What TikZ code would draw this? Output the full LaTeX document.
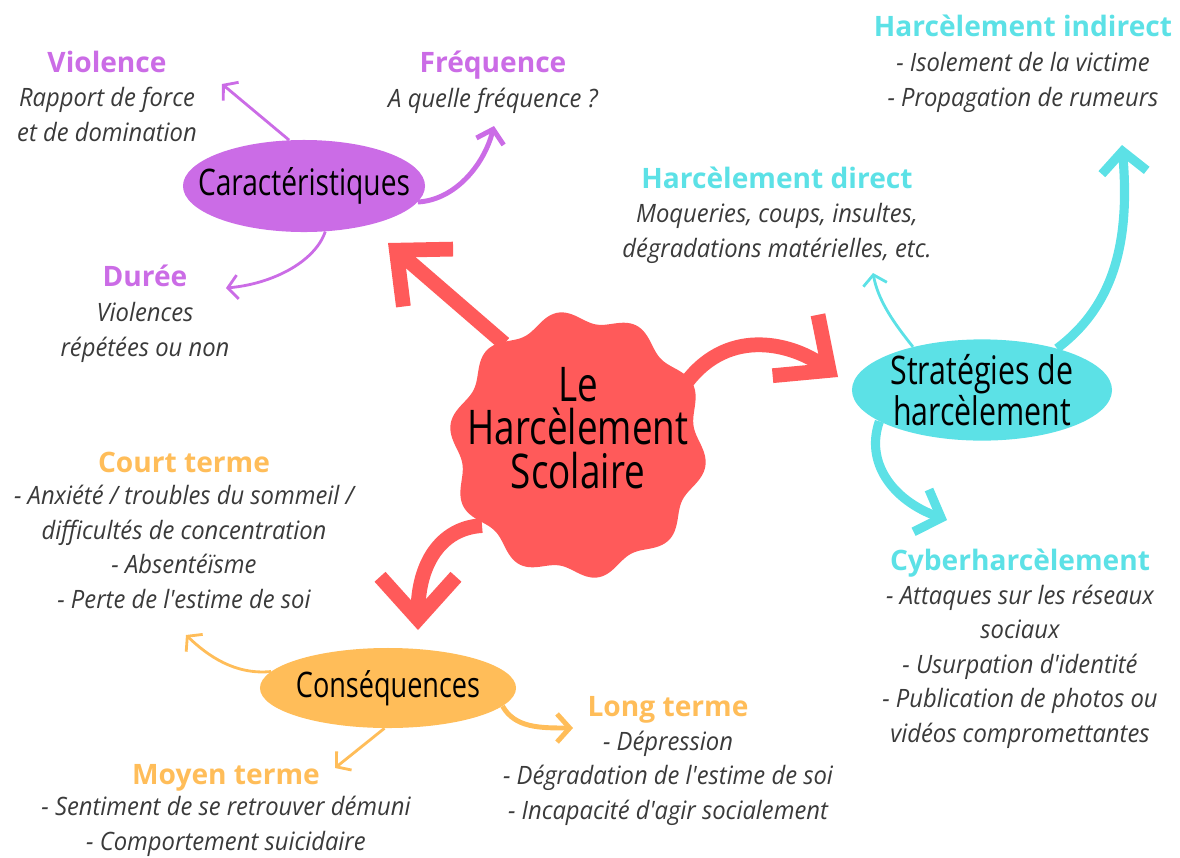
\documentclass[tikz,border=0pt]{standalone}
\usepackage{fontspec}
\setmainfont{Open Sans}
\newfontfamily\handfont[FakeStretch=0.77]{Open Sans}
\newfontfamily\notefont[FakeStretch=0.94]{Open Sans}
\usepackage{xcolor}
\usepackage{tikz}
\usetikzlibrary{arrows.meta,positioning,shapes.geometric}
\definecolor{blobred}{HTML}{FF5A5A}
\definecolor{lilac}{HTML}{CB6CE6}
\definecolor{aqua}{HTML}{5CE1E6}
\definecolor{amber}{HTML}{FFBD59}
\definecolor{notegray}{HTML}{3A3A3A}

\begin{document}
\begin{tikzpicture}[x=0.025cm, y=-0.025cm,
  topic/.style={ellipse, fill=#1, inner sep=0pt, align=center,
                font=\handfont\fontsize{26}{24}\selectfont},
  head/.style={font=\bfseries\fontsize{20}{24}\selectfont, text=#1,
               anchor=base, inner sep=0pt},
  note/.style={font=\notefont\itshape\fontsize{18}{24.5}\selectfont,
               text=notegray, align=center, anchor=base, inner sep=0pt},
  bigarrow/.style={line width=10.5pt, blobred,
                   -{Straight Barb[length=30pt, width=54pt]}},
  thinarrow/.style={line width=2pt, #1,
                    -{Straight Barb[length=7pt, width=17pt]}},
  midarrow/.style={line width=3.5pt, #1,
                   -{Straight Barb[length=9pt, width=20pt]}},
  wideshaft/.style={line width=6.5pt, #1,
                    -{Straight Barb[length=15pt, width=32pt]}},
]
\useasboundingbox (0,0) rectangle (1180,857);

% Central blob
\fill[blobred] plot[domain=0:360, samples=160, smooth cycle]
  ({578+(123+6*sin(10*\x))*cos(\x)}, {445+(128+6*sin(10*\x))*sin(\x)});
\node[circle, minimum size=6.25cm, inner sep=0pt] (harc) at (578,445) {};
\node[font=\handfont\fontsize{34}{31}\selectfont, align=center]
  (title) at (578,428) {Le\\Harcèlement\\Scolaire};

% Topics
\node[topic=lilac, minimum width=6.05cm, minimum height=2.3cm,
      inner xsep=-15pt]
  (cara) at (304,186) {Caractéristiques};
\node[topic=aqua, minimum width=6.5cm, minimum height=2.5cm,
      font=\handfont\fontsize{28}{24}\selectfont]
  (strat) at (982,390) {Stratégies de\\harcèlement};
\node[topic=amber, minimum width=6.4cm, minimum height=2.0cm,
      font=\handfont\fontsize{25}{24}\selectfont, inner xsep=-2pt]
  (cons) at (388,688) {Conséquences};

% Arrow tips
\coordinate (tCara) at (388,243);
\coordinate (tStrat) at (838,377);
\coordinate (tCons) at (418,630);
\coordinate (tViol) at (222,84);
\coordinate (tFreq) at (494,126);
\coordinate (tDuree) at (226,288);
\coordinate (tDirect) at (873,273);
\coordinate (tIndirect) at (1122,145);
\coordinate (tCyber) at (947,520);
\coordinate (tCourt) at (186,635);
\coordinate (tMoyen) at (335,768);
\coordinate (tLong) at (573,728);

% Main branches
\draw[bigarrow] (harc.126) -- (tCara);
\draw[bigarrow] (harc.30) .. controls (730,325) and (795,345) .. (tStrat);
\draw[bigarrow] (harc.220) .. controls (440,528) and (418,565) .. (tCons);

% Caracteristiques
\draw[thinarrow=lilac] (cara.108) -- (tViol);
\draw[midarrow=lilac] (cara.-8) .. controls (455,200) and (484,165) .. (tFreq);
\draw[thinarrow=lilac] (cara.-65) .. controls (315,262) and (272,284) .. (tDuree);

% Strategies
\draw[thinarrow=aqua] (strat.148) .. controls (893,322) and (878,300) .. (tDirect);
\draw[wideshaft=aqua] (strat.29) .. controls (1115,305) and (1130,240) .. (tIndirect);
\draw[wideshaft=aqua] (strat.197) .. controls (865,462) and (892,500) .. (tCyber);

% Consequences
\draw[thinarrow=amber] (cons.172) .. controls (235,675) and (208,656) .. (tCourt);
\draw[thinarrow=amber] (cons.-95) -- (tMoyen);
\draw[midarrow=amber] (cons.-9) .. controls (515,728) and (540,728) .. (tLong);

% Labels (note nodes sit on the baseline of their last line)
\node[head=lilac] (viol) at (107,72) {Violence};
\node[note] (violTxt) at (107,141) {Rapport de force\\et de domination};
\node[head=lilac] (freq) at (493,72) {Fréquence};
\node[note] (freqTxt) at (493,107) {A quelle fréquence ?};
\node[head=lilac] (duree) at (145,286) {Durée};
\node[note] (dureeTxt) at (145,356) {Violences\\répétées ou non};

\node[head=aqua] (indirect) at (1023,36) {Harcèlement indirect};
\node[note] (indirectTxt) at (1023,106)
  {- Isolement de la victime\\- Propagation de rumeurs};
\node[head=aqua] (direct) at (777,188) {Harcèlement direct};
\node[note] (directTxt) at (777,257)
  {Moqueries, coups, insultes,\\dégradations matérielles, etc.};
\node[head=aqua] (cyber) at (1020,570) {Cyberharcèlement};
\node[note] (cyberTxt) at (1020,742)
  {- Attaques sur les réseaux\\sociaux\\- Usurpation d'identité\\
   - Publication de photos ou\\vidéos compromettantes};

\node[head=amber] (court) at (184,472) {Court terme};
\node[note] (courtTxt) at (184,608)
  {- Anxiété / troubles du sommeil /\\difficultés de concentration\\
   - Absentéïsme\\- Perte de l'estime de soi};
\node[head=amber] (long) at (668,716) {Long terme};
\node[note] (longTxt) at (668,819)
  {- Dépression\\- Dégradation de l'estime de soi\\- Incapacité d'agir socialement};
\node[head=amber] (moyen) at (226,784) {Moyen terme};
\node[note] (moyenTxt) at (226,850)
  {- Sentiment de se retrouver démuni\\- Comportement suicidaire};
\end{tikzpicture}
\end{document}
